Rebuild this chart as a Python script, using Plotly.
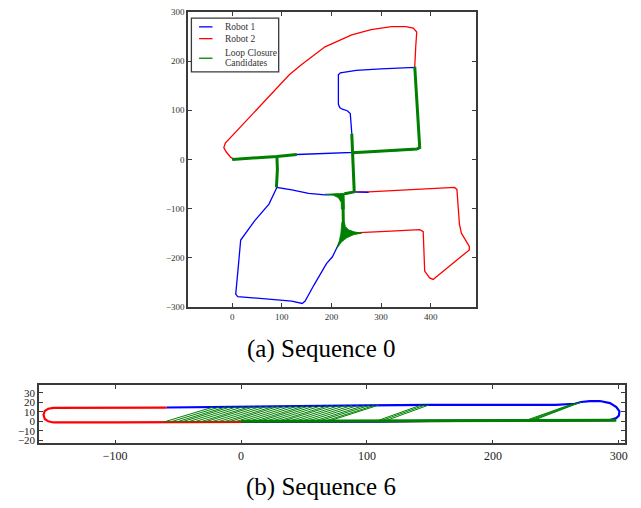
import plotly.graph_objects as go

W, H = 641, 508
BLUE, RED, GREEN = "#0000ff", "#ff0000", "#008000"
SERIF = "Liberation Serif"
FRAME = "#3a3a3a"

# ---------------- Sequence 0 data ----------------
s0_r1_x = [0, 53, 90, 130, 190, 243, 300, 350, 372, 378, 377, 374, 372, 370, 368, 300, 250, 218, 214, 214, 217, 222, 232, 238, 240, 242, 243, 244, 246, 275, None,
           246, 225, 187, 154, 120, 90, 91, 90, None,
           90, 84, 74, 45, 17, 12, 7, 11, 60, 120, 141, 147, 165, 190, 202, 211, 218, 222, 224, 224]
s0_r1_y = [0, 3, 6, 10, 12, 13.5, 16.5, 19, 21, 25, 40, 76, 110, 150, 187, 184, 181, 176, 172, 112, 105, 102, 99, 93, 70, 40, 13.5, -20, -66, -67, None,
           -66, -71, -72, -69, -62, -57, -20, 6, None,
           -57, -71, -91, -125, -164, -220, -274, -279, -283, -288, -293, -288, -255, -212, -198, -181, -165, -150, -120, -72]

s0_r2_x = [5, -3, -12, -17, -14, 30, 87, 115, 140, 187, 241, 280, 321, 350, 365, 372, 370, 368, 370, 372, 374, 377, 379, 376, 350, 300, 243, 244, 246, 275, 350, 448,
           453, 455, 458, 462, 468, 478, 478, 440, 405, 398, 388, 385, 378, 320, 261, 235]
s0_r2_y = [0, 4, 15, 24, 33, 80, 143, 172, 193, 229, 253, 264, 270, 270, 267, 259, 230, 189, 150, 110, 76, 40, 27, 22, 20, 17, 13.5, -20, -66, -66, -62, -57,
           -61, -100, -131, -150, -160, -177, -184, -215, -244, -241, -227, -147, -143, -146, -149, -150]

# loop closure candidates along shared stretches
s0_lc_x = [0, 53, 90, 130, None, 90, 91, 90, 89, None,
           243, 300, 350, 372, 378, 377, 374, 372, 370, 368, None,
           241, 243, 244, 246, None, 226, 246, None, 223, 224, 224, 224]
s0_lc_y = [0, 3, 6, 10, None, 7, -20, -40, -57, None,
           13.5, 16.5, 19, 21, 24, 40, 76, 110, 150, 188, None,
           52, 13.5, -20, -66, None, -70, -66, None, -72, -100, -130, -150]

# dense candidate fans at the two junctions
s0_fan1_x = [187, 225, 226, 220, 219.8, 214, 203, 187]
s0_fan1_y = [-71, -69, -101, -101, -87.5, -78, -72.5, -71]
s0_fan2_x = [221, 226, 228.2, 234.8, 245.7, 261, 261, 244.7, 231, 219.7, 211, 216, 219, 221]
s0_fan2_y = [-128, -128, -136.8, -143.3, -147.3, -148.5, -150, -153.1, -159.3, -168.6, -181, -165, -150, -128]

s0_xticks = [0, 100, 200, 300, 400]
s0_yticks = [-300, -200, -100, 0, 100, 200, 300]

# ---------------- Sequence 6 data ----------------
s6_r1_x = [-59, 0, 50, 100, 150, 200, 250, 265, 270, 277, 285, 293, 298, 300.5, 300, 298, 293, 250, 200, 150, 110, 50, 0]
s6_r1_y = [14.6, 15.6, 16.3, 16.9, 17.3, 17.3, 17.4, 18.6, 20.4, 21.4, 21.5, 19.3, 15, 10.5, 6, 3.5, 1.3, 0.9, 0.8, 0.4, -0.3, -0.2, -0.3]

s6_r2_x = [-59, -100, -149, -153, -155.8, -156.8, -155.8, -153, -149, -100, -62, 0, 100, 200, 260, 296]
s6_r2_y = [14.5, 14.5, 14.3, 13.3, 11, 7, 2.5, 0, -1.2, -1.2, -1.0, -0.6, 0.3, 0.9, 1.1, 1.2]

s6_lc_thick_x = [0, 50, 100, 150, 200, 250, 298]
s6_lc_thick_y = [0.1, 0.3, 0.5, 0.6, 0.8, 1.0, 1.2]

s6_lc_x0 = [-62, -57, -52, -48, -43, -38, -33, -29, -24, -19, -14, -10, -5, 0, 5, 10, 14, 19, 24, 29, 33, 38, 43, 48, 53, 58, 62, 67, 70,
            108, 111, 114.5, 226, 228, 230, 232]
s6_lc_y0 = [-1.0, -1.0, -1.0, -1.0, -0.9, -0.9, -0.9, -0.8, -0.8, -0.8, -0.7, -0.7, -0.6, -0.5, -0.4, -0.3, -0.2, -0.1, 0, 0, 0.1, 0.1, 0.2, 0.2, 0.3, 0.3, 0.3, 0.4, 0.4,
            0.5, 0.5, 0.5, 0.9, 0.9, 0.9, 0.9]
s6_lc_x1 = [-22, -17, -12, -8, -3, 2, 7, 11, 16, 21, 26, 30, 35, 40, 45, 50, 54, 59, 64, 69, 73, 78, 83, 88, 93, 98, 102, 106, 109,
            143, 146, 149, 263, 265.5, 268, 270]
s6_lc_y1 = [15.1, 15.2, 15.3, 15.4, 15.5, 15.6, 15.6, 15.7, 15.8, 15.9, 15.9, 16.0, 16.1, 16.1, 16.2, 16.3, 16.3, 16.4, 16.5, 16.5, 16.6, 16.6, 16.7, 16.7, 16.8, 16.8, 16.9, 16.9, 17.0,
            17.2, 17.2, 17.2, 18.3, 18.9, 19.6, 20.3]

s6_xticks = [-100, 0, 100, 200, 300]
s6_yticks = [-20, -10, 0, 10, 20, 30]

legend_names = ["Robot 1", "Robot 2", "Loop Closure", "Candidates"]
legend_colors = [BLUE, RED, GREEN]

# build segment list for the hatch of candidates
seg_x, seg_y = [], []
for a, b, c, d in zip(s6_lc_x0, s6_lc_y0, s6_lc_x1, s6_lc_y1):
    seg_x += [a, c, None]
    seg_y += [b, d, None]

fig = go.Figure()

# ---- Sequence 0 ----
fig.add_trace(go.Scatter(x=s0_r2_x, y=s0_r2_y, mode="lines", line=dict(color=RED, width=1.3),
                         name="Robot 2", xaxis="x", yaxis="y"))
fig.add_trace(go.Scatter(x=s0_r1_x, y=s0_r1_y, mode="lines", line=dict(color=BLUE, width=1.3),
                         name="Robot 1", xaxis="x", yaxis="y"))
fig.add_trace(go.Scatter(x=s0_lc_x, y=s0_lc_y, mode="lines", line=dict(color=GREEN, width=3),
                         name="Loop Closure Candidates", xaxis="x", yaxis="y"))
fig.add_trace(go.Scatter(x=s0_fan1_x, y=s0_fan1_y, mode="lines", fill="toself", fillcolor=GREEN,
                         line=dict(color=GREEN, width=0.8), xaxis="x", yaxis="y"))
fig.add_trace(go.Scatter(x=s0_fan2_x, y=s0_fan2_y, mode="lines", fill="toself", fillcolor=GREEN,
                         line=dict(color=GREEN, width=0.8), xaxis="x", yaxis="y"))

# ---- Sequence 6 ----
fig.add_trace(go.Scatter(x=s6_r2_x, y=s6_r2_y, mode="lines", line=dict(color=RED, width=2.2),
                         xaxis="x2", yaxis="y2"))
fig.add_trace(go.Scatter(x=s6_r1_x, y=s6_r1_y, mode="lines", line=dict(color=BLUE, width=2.2),
                         xaxis="x2", yaxis="y2"))
fig.add_trace(go.Scatter(x=seg_x, y=seg_y, mode="lines", line=dict(color=GREEN, width=1),
                         xaxis="x2", yaxis="y2"))
fig.add_trace(go.Scatter(x=s6_lc_thick_x, y=s6_lc_thick_y, mode="lines", line=dict(color=GREEN, width=3),
                         xaxis="x2", yaxis="y2"))

axis_common = dict(showgrid=False, zeroline=False, showline=True, linecolor=FRAME, linewidth=1.6,
                   mirror="allticks", ticks="inside", ticklen=4, tickwidth=1, tickcolor=FRAME)

# legend box drawn in the top panel (pixel positions converted to paper units)
def px(x):
    return x / W

def py(y):
    return 1 - y / H

shapes = [dict(type="rect", xref="paper", yref="paper", x0=px(192.3), x1=px(280), y0=py(68.3), y1=py(13.3),
               line=dict(color=FRAME, width=1.3), fillcolor="white", layer="above")]
sample_rows = [22.3, 34.3, 54.3]
for col, yy in zip(legend_colors, sample_rows):
    shapes.append(dict(type="line", xref="paper", yref="paper", x0=px(200), x1=px(213.5), y0=py(yy), y1=py(yy),
                       line=dict(color=col, width=1.3), layer="above"))

annotations = []
for name, yy in zip(legend_names, [22.3, 34.3, 49.3, 59.3]):
    annotations.append(dict(text=name, x=px(224), y=py(yy), xref="paper", yref="paper", xanchor="left",
                            yanchor="middle", showarrow=False, font=dict(family=SERIF, size=9.5, color="#333")))
annotations += [
    dict(text="(a) Sequence 0", x=px(323), y=py(351), xref="paper", yref="paper",
         xanchor="center", yanchor="middle", showarrow=False,
         font=dict(family=SERIF, size=25, color="black")),
    dict(text="(b) Sequence 6", x=px(323), y=py(492), xref="paper", yref="paper",
         xanchor="center", yanchor="middle", showarrow=False,
         font=dict(family=SERIF, size=25, color="black")),
]

fig.update_layout(
    width=W, height=H, margin=dict(l=0, r=0, t=0, b=0),
    paper_bgcolor="white", plot_bgcolor="white", showlegend=False,
    xaxis=dict(domain=[px(189), px(478)], range=[-89, 491], anchor="y", tickvals=s0_xticks,
               tickfont=dict(family=SERIF, size=9, color="#333"), **axis_common),
    yaxis=dict(domain=[py(308), py(7)], range=[-300, 300], anchor="x", tickvals=s0_yticks,
               tickfont=dict(family=SERIF, size=9, color="#333"), **axis_common),
    xaxis2=dict(domain=[px(39.3), px(627.7)], range=[-160.3, 304.7], anchor="y2", tickvals=s6_xticks,
                tickfont=dict(family=SERIF, size=12, color="#222"), **axis_common),
    yaxis2=dict(domain=[py(447.3), py(388)], range=[-23.4, 38], anchor="x2", tickvals=s6_yticks,
                tickfont=dict(family=SERIF, size=11, color="#222"), **axis_common),
    shapes=shapes,
    annotations=annotations,
)

fig.write_html("out.html", config={"displayModeBar": False},
               post_script="document.body.style.margin='0';document.body.style.overflow='hidden';")
